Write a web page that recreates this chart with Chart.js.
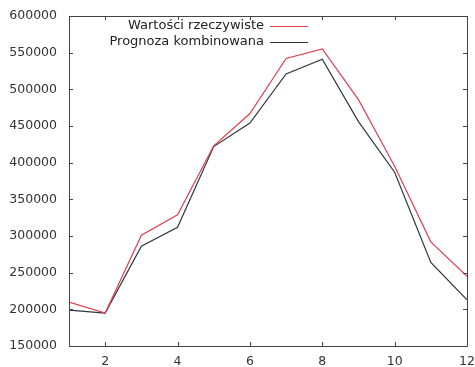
<!DOCTYPE html>
<html>
<head>
<meta charset="utf-8">
<script src="https://cdn.jsdelivr.net/npm/chart.js@4"></script>
<style>
  body { margin: 0; background: #fff; }
  #wrap { width: 475px; height: 367px; }
</style>
</head>
<body>
<div id="wrap"><canvas id="myChart"></canvas></div>
<script>
  // data
  var okresy = [1, 2, 3, 4, 5, 6, 7, 8, 9, 10, 11, 12];
  var rzeczywiste = [210000, 195000, 301000, 329000, 423000, 467000, 542000, 555000, 486000, 395000, 292000, 245000];
  var prognoza = [199000, 195000, 286000, 312000, 422000, 454000, 521000, 541000, 456000, 387000, 264000, 213000];
  var xTicks = [2, 4, 6, 8, 10, 12];
  var yTicks = [150000, 200000, 250000, 300000, 350000, 400000, 450000, 500000, 550000, 600000];
  var nazwy = ['Wartości rzeczywiste', 'Prognoza kombinowana'];
  var kolory = ['#e0404f', '#2e3838'];

  var font = { family: 'DejaVu Sans', size: 12.5 };

  function punkty(values) {
    return okresy.map(function (x, i) { return { x: x, y: values[i] }; });
  }

  // gnuplot-like frame with inward ticks, plus the legend inside the plot
  var ramka = {
    id: 'ramka',
    afterDraw: function (chart) {
      var c = chart.ctx, a = chart.chartArea;
      var xs = chart.scales.x, ys = chart.scales.y;
      c.save();
      c.strokeStyle = '#444';
      c.lineWidth = 1;
      c.beginPath();
      c.rect(Math.round(a.left) + 0.5, Math.round(a.top) + 0.5,
             Math.round(a.right - a.left), Math.round(a.bottom - a.top));
      xTicks.forEach(function (v) {
        var px = Math.round(xs.getPixelForValue(v)) + 0.5;
        c.moveTo(px, a.bottom); c.lineTo(px, a.bottom - 4);
        c.moveTo(px, a.top); c.lineTo(px, a.top + 4);
      });
      yTicks.forEach(function (v) {
        var py = Math.round(ys.getPixelForValue(v)) + 0.5;
        c.moveTo(a.left, py); c.lineTo(a.left + 4, py);
        c.moveTo(a.right, py); c.lineTo(a.right - 4, py);
      });
      c.stroke();

      // legend: text on the left, line sample on the right
      c.font = '13px ' + font.family;
      c.textAlign = 'right';
      c.textBaseline = 'middle';
      nazwy.forEach(function (n, i) {
        var y = 26 + i * 16;
        c.fillStyle = '#222';
        c.fillText(n, 264, y);
        c.strokeStyle = kolory[i];
        c.beginPath();
        c.moveTo(270, y + 0.5); c.lineTo(308, y + 0.5);
        c.stroke();
      });
      c.restore();
    }
  };

  var ctx = document.getElementById('myChart').getContext('2d');

  var chart = new Chart(ctx, {
    type: 'line',
    data: {
      datasets: [
        { label: nazwy[0], data: punkty(rzeczywiste), borderColor: kolory[0], borderWidth: 1.2, pointRadius: 0, tension: 0, fill: false },
        { label: nazwy[1], data: punkty(prognoza), borderColor: kolory[1], borderWidth: 1.2, pointRadius: 0, tension: 0, fill: false }
      ]
    },
    options: {
      responsive: true,
      maintainAspectRatio: false,
      animation: false,
      layout: { padding: { top: 16, right: 8, left: 0, bottom: 0 } },
      plugins: { legend: { display: false }, tooltip: { enabled: false } },
      scales: {
        x: {
          type: 'linear',
          min: 1,
          max: 12,
          afterBuildTicks: function (s) { s.ticks = xTicks.map(function (v) { return { value: v }; }); },
          afterFit: function (s) { s.height = 21; s.paddingLeft = 0; s.paddingRight = 0; },
          grid: { display: false, drawTicks: false },
          border: { display: false },
          ticks: { font: font, color: '#333', padding: 8, maxRotation: 0 }
        },
        y: {
          min: 150000,
          max: 600000,
          afterBuildTicks: function (s) { s.ticks = yTicks.map(function (v) { return { value: v }; }); },
          afterFit: function (s) { s.width = 69; s.paddingTop = 0; s.paddingBottom = 0; },
          grid: { display: false, drawTicks: false },
          border: { display: false },
          ticks: { font: font, color: '#333', padding: 12, callback: function (v) { return String(v); } }
        }
      }
    },
    plugins: [ramka]
  });
</script>
</body>
</html>
